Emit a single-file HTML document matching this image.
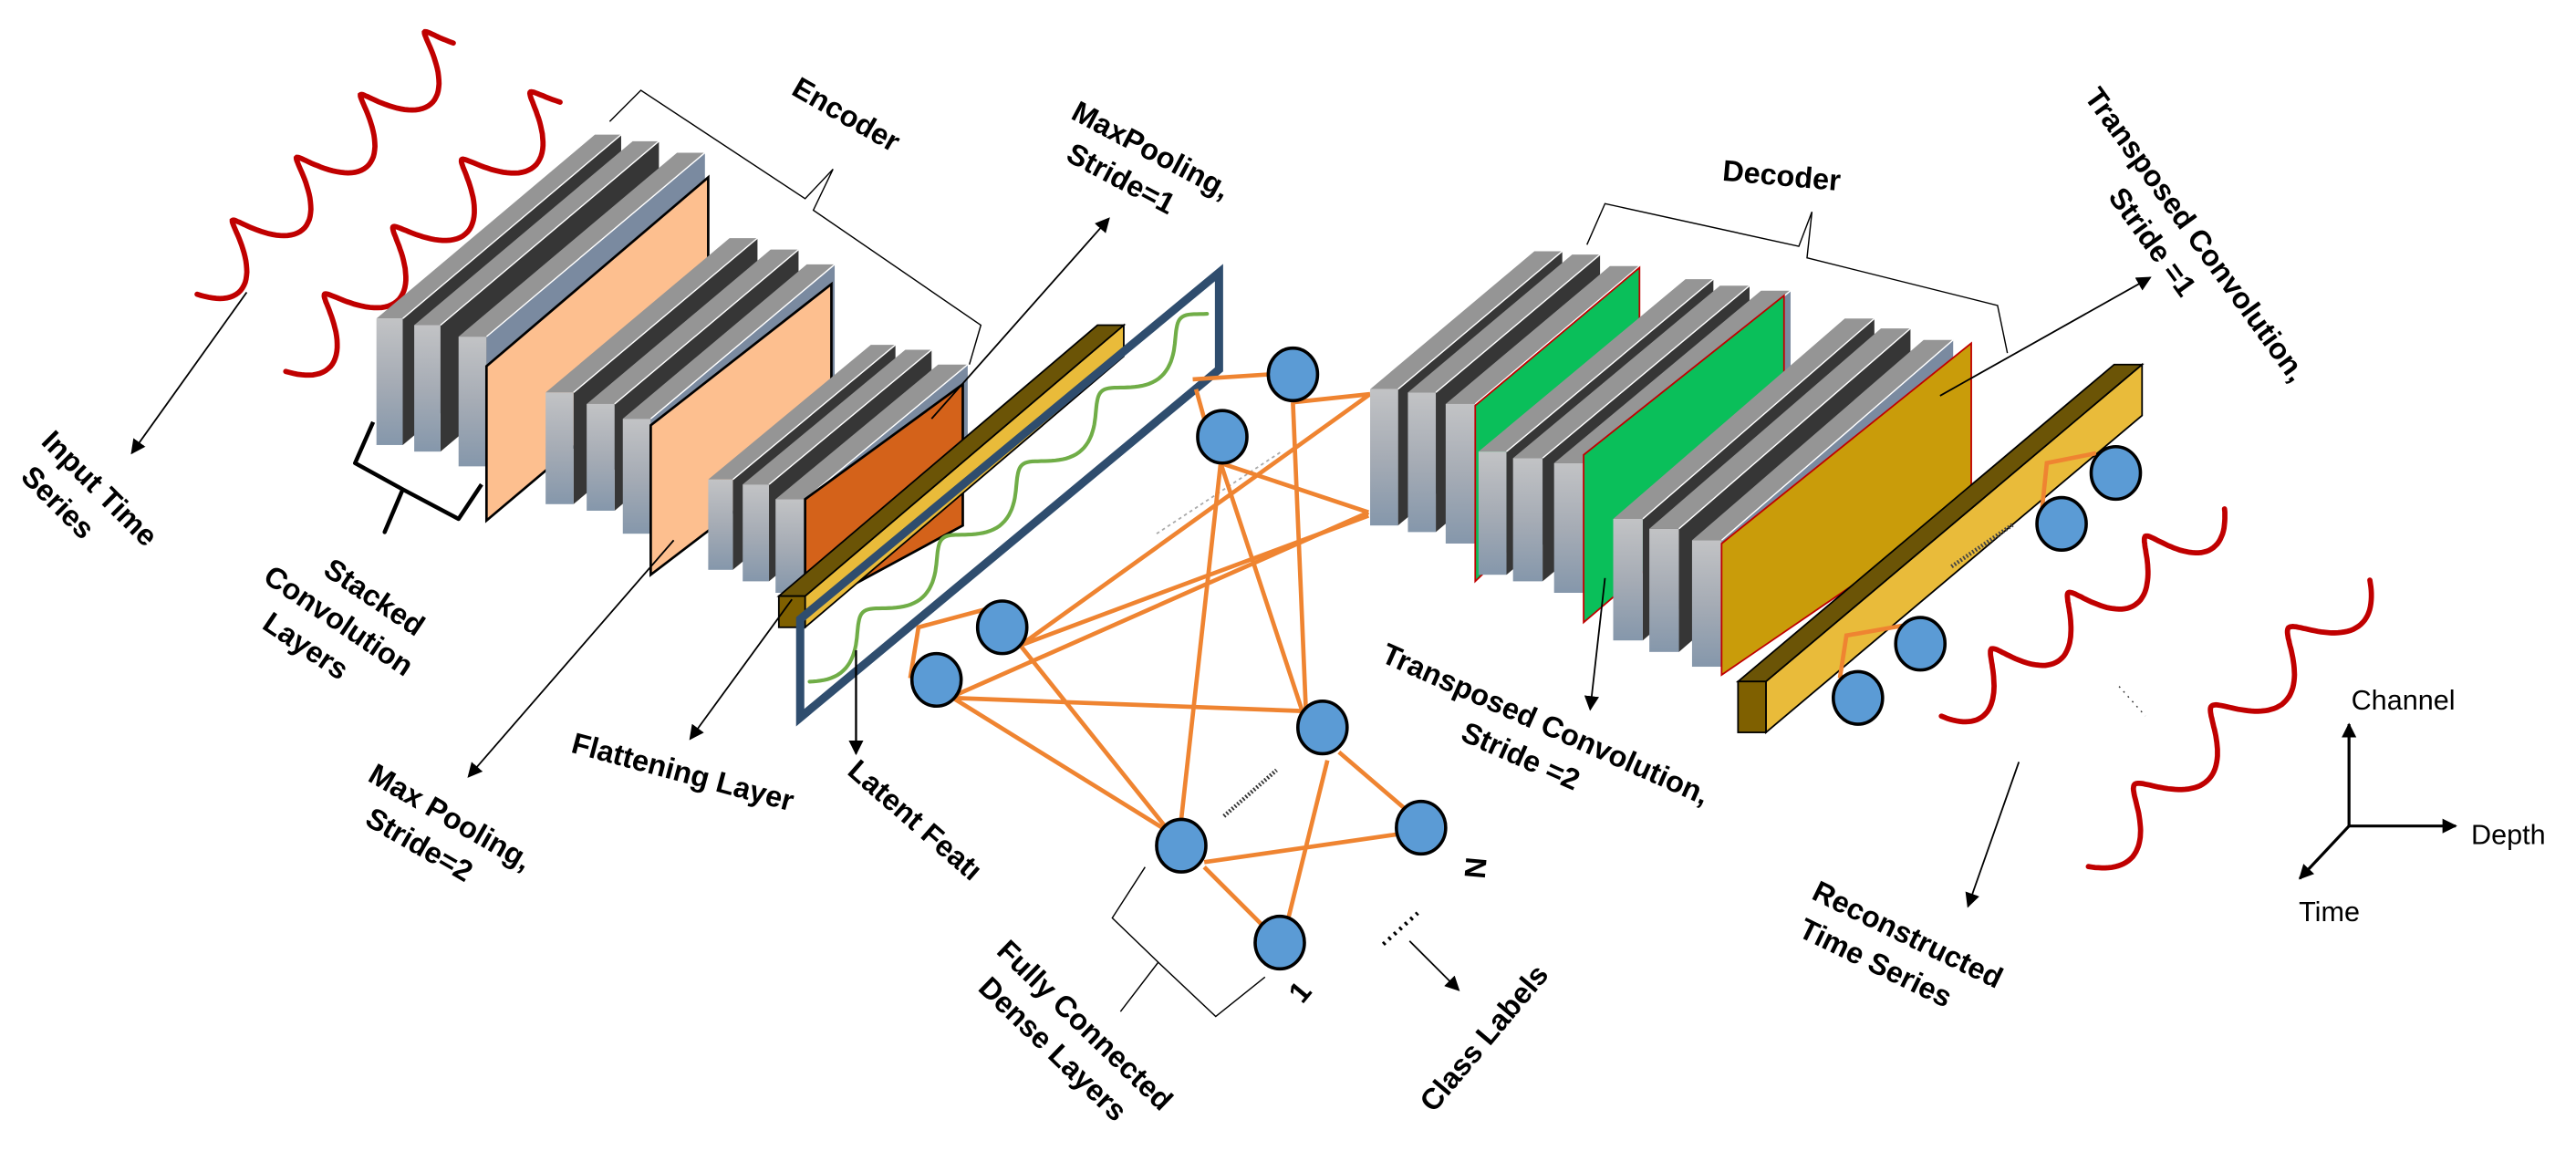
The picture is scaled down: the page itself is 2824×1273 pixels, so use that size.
<!DOCTYPE html>
<html><head><meta charset="utf-8">
<style>
html,body{margin:0;padding:0;background:#fff;}
svg{display:block;}
text{font-family:"Liberation Sans",sans-serif;font-weight:bold;font-size:18px;fill:#000;}
.r{font-weight:normal;font-size:17px;}
</style></head>
<body>
<svg id="s" width="2824" height="1273" viewBox="0 0 1568 707" xmlns="http://www.w3.org/2000/svg">
<defs>
<linearGradient id="gf" x1="0" y1="0" x2="0" y2="1">
<stop offset="0" stop-color="#c2c3c5"/><stop offset="0.5" stop-color="#a6acb5"/><stop offset="1" stop-color="#8597ab"/>
</linearGradient>
<marker id="ar" viewBox="0 0 10 10" refX="9" refY="5" markerWidth="9" markerHeight="9" markerUnits="userSpaceOnUse" orient="auto">
<path d="M0,0 L10,5 L0,10 z" fill="#000"/></marker>
</defs>
<g id="geo"></g>
<g id="txt" text-anchor="middle">
<text transform="translate(512,75) rotate(30)">Encoder</text>
<g transform="translate(695,102) rotate(28)"><text y="-6">MaxPooling,</text><text x="-8" y="18">Stride=1</text></g>
<g transform="translate(52,306) rotate(45)"><text y="-6">Input Time</text><text x="-12" y="18">Series</text></g>
<g transform="translate(206,378) rotate(34)"><text x="10" y="-18">Stacked</text><text y="6">Convolution</text><text x="-8" y="30">Layers</text></g>
<g transform="translate(268,508) rotate(30)"><text y="-6">Max Pooling,</text><text x="-8" y="18">Stride=2</text></g>
<text transform="translate(414,476) rotate(15)">Flattening Layer</text>
<text transform="translate(553,504) rotate(41)">Latent Featı</text>
<g transform="translate(652,633) rotate(44)"><text y="-6">Fully Connected</text><text x="-4" y="18">Dense Layers</text></g>
<text transform="translate(1084,113) rotate(5)">Decoder</text>
<g transform="translate(1327,150) rotate(54)"><text y="-6">Transposed Convolution,</text><text x="-12" y="18">Stride =1</text></g>
<g transform="translate(936,452) rotate(24)"><text y="-6">Transposed Convolution,</text><text x="-6" y="18">Stride =2</text></g>
<text transform="translate(892,528) rotate(95)">N</text>
<text transform="translate(796,608) rotate(-50)">1</text>
<text transform="translate(908,636) rotate(-50)">Class Labels</text>
<g transform="translate(1156,580) rotate(26)"><text y="-6">Reconstructed</text><text x="-10" y="18">Time Series</text></g>
<text class="r" x="1463" y="432">Channel</text>
<text class="r" x="1527" y="514">Depth</text>
<text class="r" x="1418" y="561">Time</text>
</g>
</svg>
<script>
(function(){
var o=[];
function P(pts,fill,stroke,sw){return '<polygon points="'+pts.map(function(p){return p.join(',')}).join(' ')+'" fill="'+fill+'"'+(stroke?' stroke="'+stroke+'" stroke-width="'+(sw||1)+'"':'')+'/>';}
function L(a,b,c,w,extra){return '<line x1="'+a[0]+'" y1="'+a[1]+'" x2="'+b[0]+'" y2="'+b[1]+'" stroke="'+c+'" stroke-width="'+w+'" '+(extra||'')+'/>';}
function PL(pts,c,w,extra){return '<polyline points="'+pts.map(function(p){return p.join(',')}).join(' ')+'" fill="none" stroke="'+c+'" stroke-width="'+w+'" '+(extra||'')+'/>';}
function slab(x,y,w,h,dx,dy,side){
 o.push(P([[x+w,y],[x+w+dx,y+dy],[x+w+dx,y+dy+h],[x+w,y+h]],side||'#363636'));
 o.push(P([[x,y],[x+w,y],[x+w+dx,y+dy],[x+dx,y+dy]],'#959595'));
 o.push(L([x+w,y],[x+w+dx,y+dy],'#fff',0.8));
 o.push('<rect x="'+x+'" y="'+y+'" width="'+w+'" height="'+h+'" fill="url(#gf)"/>');
}
function group(sl,dx,dy){sl.forEach(function(s,i){slab(s[0],s[1],s[2],s[3],dx,dy,i==sl.length-1?'#7a8aa0':'#363636');});}
function wave(x0,y0,x1,y1,n,A,col,w){
 var dx=x1-x0,dy=y1-y0,len=Math.sqrt(dx*dx+dy*dy),nx=-dy/len,ny=dx/len,d='';
 for(var i=0;i<=200;i++){var t=i/200,s=A*Math.sin(2*Math.PI*n*t);
  var px=x0+dx*t+nx*s-0.35*A*Math.cos(2*Math.PI*n*t)*dx/len, py=y0+dy*t+ny*s-0.35*A*Math.cos(2*Math.PI*n*t)*dy/len;
  d+=(i?'L':'M')+px.toFixed(1)+','+py.toFixed(1);}
 o.push('<path d="'+d+'" fill="none" stroke="'+col+'" stroke-width="'+w+'" stroke-linecap="round"/>');
}
function bar(x,y,w,h,dx,dy){
 o.push(P([[x+w,y],[x+w+dx,y+dy],[x+w+dx,y+dy+h],[x+w,y+h]],'#e9bb3a','#000',1));
 o.push(P([[x,y],[x+w,y],[x+w+dx,y+dy],[x+dx,y+dy]],'#6b5406','#000',1));
 o.push('<rect x="'+x+'" y="'+y+'" width="'+w+'" height="'+h+'" fill="#7f6000" stroke="#000" stroke-width="1"/>');
}
function node(x,y){o.push('<ellipse cx="'+x+'" cy="'+y+'" rx="15" ry="16" fill="#5b9bd5" stroke="#000" stroke-width="2"/>');}
function arrow(a,b,w){o.push(L(a,b,'#000',w||1,'marker-end="url(#ar)"'));}
wave(124,175,280,22,4,17,'#c00000',3.2);
wave(178,222,345,58,4,17,'#c00000',3.2);
wave(1186,433,1350,313,3.5,15,'#c00000',3.2);
wave(1275,524,1439,357,3.5,15,'#c00000',3.2);
group([[229,194,16,77],[252,198,16,77],[279,205,17,79]],133,-112);
o.push(P([[296,223],[431,108],[431,203],[296,317]],'#fdbf8f','#000',1.5));
group([[332,239,17,68],[357,246,17,65],[379,255,17,70]],112,-94);
o.push(P([[396,259],[506,173],[506,266],[396,350]],'#fdbf8f','#000',1.5));
group([[431,292,15,55],[452,295,16,59],[472,304,18,57]],99,-82);
o.push(P([[490,304],[586,234],[586,320],[490,372]],'#d4621a','#000',1.5));
bar(474,363,16,19,194,-165);
o.push(P([[487,377],[742,166],[742,225],[487,437]],'none','#2f4d6e',5));
wave(495,413,737,189,5,9,'#70ad47',2.3);
o.push(L([704,325],[780,275],'#aaa',1,'stroke-dasharray="2,2"'));
o.push(PL([[371,74],[390,55],[490,121],[507,103],[495,128],[597,198],[590,222]],'#000',0.8));
o.push(PL([[227,257],[216,282],[245,298],[234,324],[245,298],[279,316],[293,295]],'#000',2.5,'stroke-linejoin="round"'));
o.push(PL([[697,528],[677,559],[705,586],[682,616],[705,586],[740,619],[770,595]],'#000',0.8));
o.push(PL([[966,149],[977,124],[1095,150],[1103,129],[1100,157],[1216,186],[1222,215]],'#000',0.8));
var O='#ef8431',W=2.6;
[[[726,231],[772,228]],[[728,237],[733,255]],[[787,245],[834,240]],[[787,245],[795,435]],
 [[743,282],[833,312]],[[743,282],[793,434]],[[743,282],[719,499]],
 [[621,393],[834,240]],[[621,393],[833,314]],[[580,424],[833,312]],[[580,425],[793,433]],
 [[580,425],[709,505]],[[621,393],[709,503]],[[815,458],[857,494]],[[808,463],[784,560]],
 [[733,525],[851,508]],[[733,528],[768,563]]].forEach(function(e){o.push(L(e[0],e[1],O,W));});
o.push(PL([[554,413],[559,382],[600,371]],O,W));
[[787,228],[744,266],[610,382],[570,414],[805,443],[719,515],[865,504],[779,574]].forEach(function(n){node(n[0],n[1]);});
o.push(L([745,497],[777,469],'#333',2.5,'stroke-dasharray="1,1.2"'));
o.push(L([842,575],[863,556],'#000',2.5,'stroke-dasharray="1.5,3"'));
group([[834,237,17,83],[857,239,17,85],[880,246,18,85]],100,-84);
o.push(P([[898,247],[998,163],[998,257],[898,354]],'#0abf5a','#c00000',1));
group([[900,275,17,75],[921,279,18,75],[946,282,18,79]],126,-105);
o.push(P([[964,277],[1086,180],[1086,275],[964,379]],'#0abf5a','#c00000',1));
group([[982,316,18,74],[1004,322,18,75],[1030,329,18,77]],141,-122);
o.push(P([[1048,331],[1200,209],[1200,307],[1048,411]],'#c99c0a','#c00000',1));
bar(1058,415,17,31,229,-193);
o.push(PL([[1276,276],[1246,282],[1243,311]],O,W));
o.push(PL([[1158,381],[1124,387],[1120,413]],O,W));
[[1288,288],[1255,319],[1169,392],[1131,425]].forEach(function(n){node(n[0],n[1]);});
o.push(L([1188,345],[1226,319],'#444',2.5,'stroke-dasharray="1,1.2"'));
o.push(L([1290,418],[1306,436],'#333',0.8,'stroke-dasharray="1,3"'));
arrow([150,178],[80,276]);
arrow([567,255],[675,133]);
arrow([410,329],[285,473]);
arrow([482,365],[420,450]);
arrow([521,396],[521,459],1.3);
arrow([858,573],[888,603]);
arrow([977,352],[968,432]);
arrow([1181,241],[1309,169]);
arrow([1229,464],[1198,552]);
arrow([1430,503],[1430,441],1.8);
arrow([1430,503],[1495,503],1.8);
arrow([1430,503],[1400,535],1.8);
document.getElementById('geo').innerHTML=o.join('');
})();
</script>
</body></html>
